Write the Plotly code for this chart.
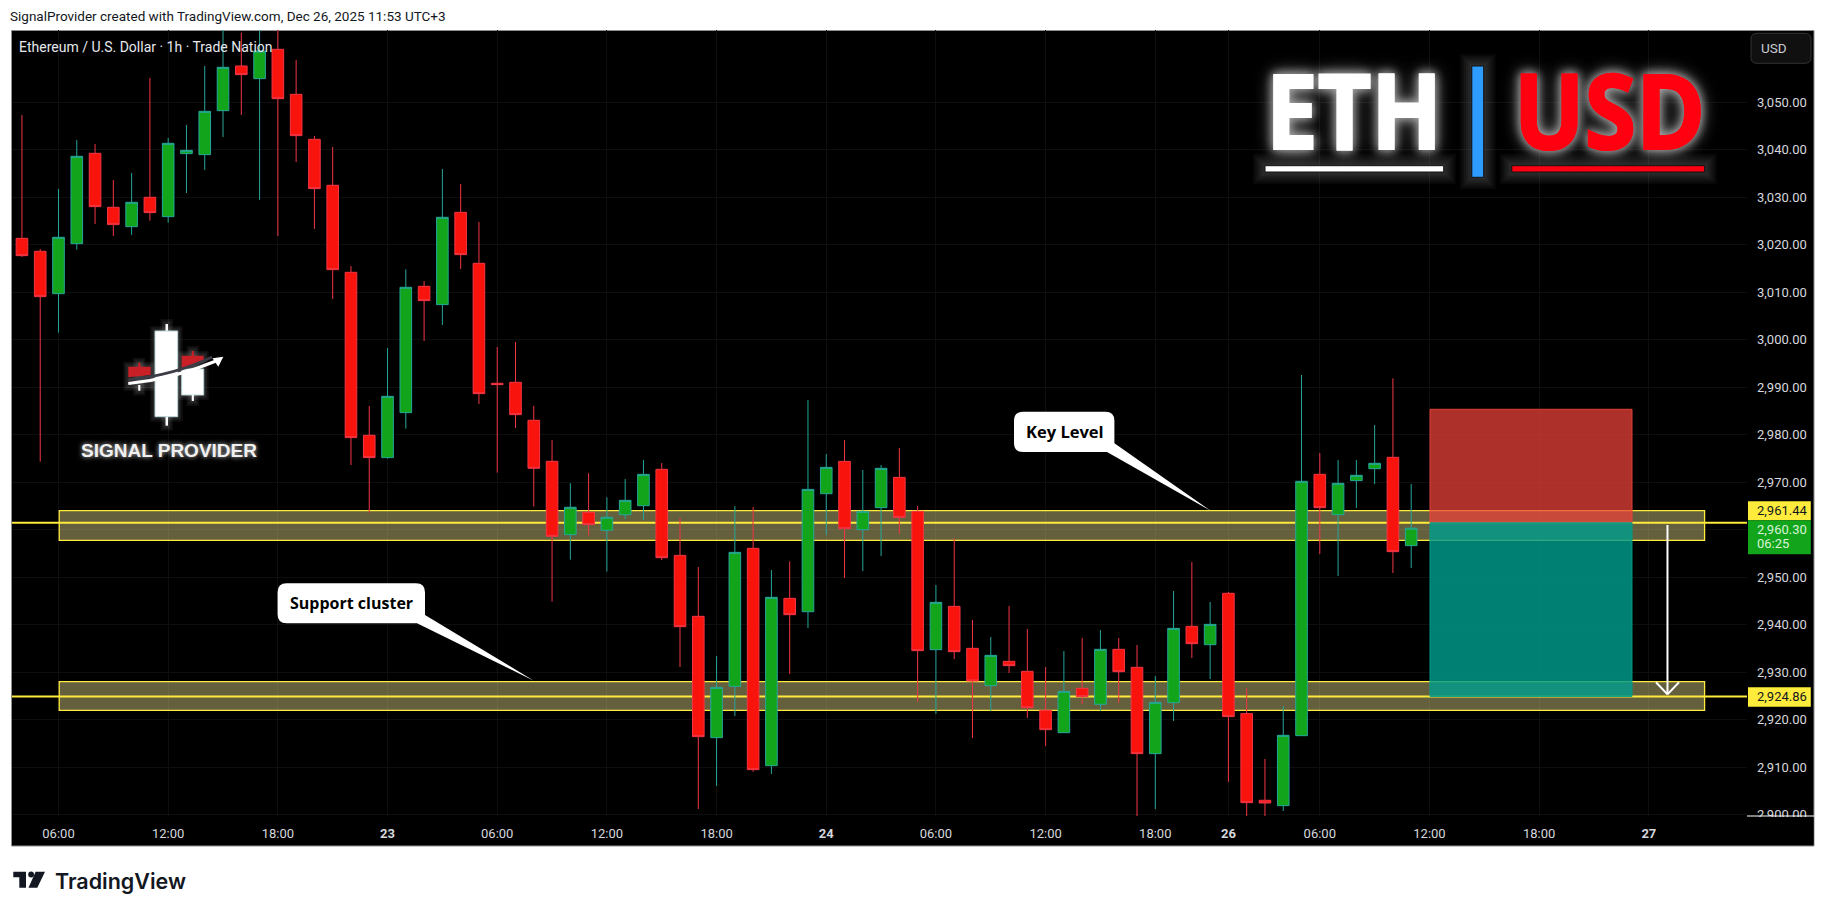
import plotly.graph_objects as go

# ---------- data (ETH/USD 1h bars, Dec 22 04:00 .. Dec 26 11:00 UTC+3) ----------
opens = [3021.34,3018.61,3009.69,3020.22,3039.25,3027.88,3023.80,3029.98,3025.91,3039.18,
         3038.97,3048.23,3057.64,3054.97,3061.15,3051.67,3042.20,3032.51,3014.19,2979.86,
         2975.16,2984.63,3011.24,3007.38,3026.82,3016.08,2990.81,2991.02,2983.02,2974.38,
         2958.94,2963.64,2959.85,2963.14,2965.03,2972.69,2954.57,2941.73,2916.18,2926.99,
         2956.05,2910.28,2945.52,2942.71,2967.56,2974.37,2959.98,2964.61,2971.00,2963.84,
         2934.71,2943.83,2934.99,2927.13,2932.25,2930.15,2921.93,2917.23,2926.56,2923.20,
         2934.78,2930.99,2912.81,2923.55,2939.62,2935.76,2946.58,2921.24,2902.99,2901.86,
         2916.60,2971.64,2963.15,2970.31,2972.83,2975.22,2956.62]
highs = [3047.32,3019.10,3031.74,3042.06,3041.21,3033.63,3035.11,3055.11,3042.48,3045.21,
         3057.64,3066.63,3064.66,3066.60,3065.92,3058.90,3042.90,3040.58,3015.52,2986.04,
         2998.25,3014.82,3012.36,3035.95,3032.79,3024.79,2998.46,2999.51,2986.04,2978.88,
         2969.75,2971.86,2966.80,2970.65,2974.65,2974.02,2962.44,2952.12,2933.37,2964.96,
         2964.75,2951.49,2953.31,2987.29,2975.92,2978.86,2972.55,2973.60,2977.18,2964.96,
         2948.33,2958.23,2940.96,2937.38,2943.90,2939.06,2931.06,2934.43,2937.17,2938.85,
         2937.17,2935.69,2929.16,2947.06,2953.17,2944.75,2946.86,2926.64,2911.69,2922.85,
         2992.56,2976.13,2974.66,2974.66,2982.03,2991.86,2969.61]
lows = [3017.42,2974.31,3001.48,3018.96,3024.37,3021.84,3022.05,3025.07,3024.65,3030.89,
        3035.74,3042.69,3047.32,3029.42,3021.84,3037.42,3023.31,3008.57,2973.61,2963.57,
        2974.94,2981.26,2999.73,3003.09,3014.89,2986.46,2972.00,2981.40,2964.84,2944.83,
        2953.67,2958.73,2951.15,2962.23,2962.02,2953.59,2931.06,2901.15,2906.00,2920.74,
        2909.01,2908.52,2929.58,2939.27,2958.86,2949.80,2951.28,2954.43,2959.07,2923.69,
        2921.16,2932.74,2916.11,2921.79,2929.79,2920.32,2914.42,2917.23,2923.27,2921.79,
        2923.48,2899.47,2901.15,2919.69,2932.95,2928.53,2906.85,2897.79,2898.49,2900.74,
        2916.60,2954.86,2950.23,2964.55,2969.61,2950.86,2951.92]
closes = [3017.70,3009.06,3021.56,3038.62,3028.02,3024.23,3028.93,3026.75,3041.35,3039.88,
          3048.09,3057.36,3055.82,3060.80,3050.76,3042.97,3031.81,3014.75,2979.37,2975.16,
          2988.07,3011.03,3008.22,3025.77,3017.91,2988.63,2990.53,2984.21,2972.91,2958.59,
          2964.70,2961.05,2962.59,2966.16,2971.63,2954.08,2939.55,2916.39,2926.78,2955.21,
          2909.44,2945.73,2942.08,2968.47,2973.11,2960.19,2963.84,2972.90,2962.58,2934.50,
          2944.68,2934.29,2928.11,2933.51,2931.34,2922.49,2917.86,2925.93,2924.81,2934.78,
          2930.07,2912.81,2923.62,2939.20,2935.97,2940.04,2920.61,2902.49,2902.42,2916.67,
          2970.17,2964.62,2969.75,2971.43,2973.96,2955.35,2960.30]

time_tick_bars = [2,8,14,20,26,32,38,44,50,56,62,66,71,77,83,89]
time_tick_labels = ["06:00","12:00","18:00","<b>23</b>","06:00","12:00","18:00","<b>24</b>",
                    "06:00","12:00","18:00","<b>26</b>","06:00","12:00","18:00","<b>27</b>"]
price_ticks = [2900,2910,2920,2930,2940,2950,2960,2970,2980,2990,3000,3010,3020,3030,3040,3050]
price_labels = [f"{p:,.2f}" for p in price_ticks]

key_zone = (2957.75, 2963.98)
support_zone = (2921.94, 2927.97)
level_high = 2961.44
level_low = 2924.86
stop_top = 2985.34
last_price = 2960.30
zone_bars = (2.04, 92.05)
position_bars = (77.03, 88.08)
arrow_bar = 90.02

# ---------- layout geometry ----------
W, H = 1826, 913
L, R, T, B = 12, 1747, 30, 816
X_RANGE = [-0.544, 94.37]
Y_RANGE = [2899.68, 3065.22]

def fx(px):
    return (px - L) / (R - L)

def fy(py):
    return 1 - (py - T) / (B - T)

YELLOW = "#FFEB3B"
shapes = []

def prect(x0, y0, x1, y1, fill=None, line=None, lw=1, layer="above"):
    shapes.append(dict(type="rect", xref="paper", yref="paper", x0=fx(x0), x1=fx(x1), y0=fy(y0), y1=fy(y1),
                       fillcolor=fill or "rgba(0,0,0,0)", line=dict(color=line or "rgba(0,0,0,0)", width=lw if line else 0),
                       layer=layer))

def ppath(points, fill=None, line=None, lw=1, layer="above", close=True):
    parts = []
    for i, p in enumerate(points):
        if p[0] == "Q":
            parts.append(f"Q {fx(p[1])},{fy(p[2])} {fx(p[3])},{fy(p[4])}")
        else:
            parts.append(("M" if i == 0 else "L") + f" {fx(p[0])},{fy(p[1])}")
    d = " ".join(parts) + (" Z" if close else "")
    shapes.append(dict(type="path", xref="paper", yref="paper", path=d,
                       fillcolor=fill or "rgba(0,0,0,0)", line=dict(color=line or "rgba(0,0,0,0)", width=lw if line else 0),
                       layer=layer))

def glow(x0, y0, x1, y1, fill, outline="#111"):
    for grow in (12, 10, 8, 6, 4, 2):
        prect(x0 - grow, y0 - grow, x1 + grow, y1 + grow, fill="rgba(255,255,255,0.03)")
    prect(x0, y0, x1, y1, fill=fill, line=outline, lw=1)

# page frame
prect(11.5, 30.5, 1814, 846, fill="#000000", line="#8e8e8e", lw=1, layer="below")

# zones, levels, position
for zone in (key_zone, support_zone):
    shapes.append(dict(type="rect", xref="x", yref="y", x0=zone_bars[0], x1=zone_bars[1], y0=zone[0], y1=zone[1],
                       fillcolor="rgba(251,238,150,0.40)", line=dict(color=YELLOW, width=1.3), layer="between"))
for lvl in (level_high, level_low):
    shapes.append(dict(type="line", xref="x", yref="y", x0=X_RANGE[0], x1=X_RANGE[1], y0=lvl, y1=lvl,
                       line=dict(color=YELLOW, width=2), layer="between"))
shapes.append(dict(type="rect", xref="x", yref="y", x0=position_bars[0], x1=position_bars[1], y0=level_high, y1=stop_top,
                   fillcolor="rgba(237,66,57,0.73)", line=dict(color="rgba(237,66,57,0.9)", width=1), layer="above"))
shapes.append(dict(type="rect", xref="x", yref="y", x0=position_bars[0], x1=position_bars[1], y0=level_low, y1=level_high,
                   fillcolor="rgba(0,156,140,0.82)", line=dict(color="rgba(0,156,140,0.9)", width=1), layer="above"))
# forecast arrow
for a, b in (((arrow_bar, 2960.97), (arrow_bar, 2925.3)),
             ((arrow_bar - 0.63, 2927.85), (arrow_bar, 2925.3)),
             ((arrow_bar + 0.63, 2927.85), (arrow_bar, 2925.3))):
    shapes.append(dict(type="line", xref="x", yref="y", x0=a[0], y0=a[1], x1=b[0], y1=b[1],
                       line=dict(color="#ffffff", width=2), layer="above"))

# callouts
def callout(x0, y0, x1, y1, side_y, tip, base_x, r=9):
    ppath([(x0 + r, y0), (x1 - r, y0), ("Q", x1, y0, x1, y0 + r), (x1, side_y), tip, (base_x, y1),
           (x0 + r, y1), ("Q", x0, y1, x0, y1 - r), (x0, y0 + r), ("Q", x0, y0, x0 + r, y0)], fill="#ffffff")

callout(277.6, 583.3, 425, 623.3, 615, (533.8, 680.7), 417)
callout(1014, 411.7, 1114.4, 452, 443.3, (1211, 511), 1107)

# signal provider logo
for grow in (5, 3.5, 2):
    for c in [(155, 331, 177.7, 416.7), (181.7, 355.7, 203.7, 395), (128.3, 366.7, 150.7, 386),
              (165.5, 324, 168, 425.7), (191.5, 351, 194, 401), (138, 362.7, 140.5, 390.7)]:
        prect(c[0] - grow, c[1] - grow, c[2] + grow, c[3] + grow, fill="rgba(255,255,255,0.05)")
prect(165.5, 324, 168, 332, fill="#ffffff")
prect(165.5, 416, 168, 425.7, fill="#ffffff")
prect(155, 331, 177.7, 416.7, fill="#ffffff", line="#bcd6d8", lw=1)
prect(181.7, 369, 203.7, 395, fill="#ffffff", line="#bcd6d8", lw=1)
prect(191.7, 395, 193.9, 401, fill="#ffffff")
prect(138.2, 385, 140.4, 390.7, fill="#ffffff")
ppath([(128.3, 366.7), (150.7, 366.7), (150.7, 375), (128.3, 377.3)], fill="#C91F27")
prect(138.2, 362.7, 140.4, 367, fill="#C91F27")
ppath([(181.7, 355.7), (203.7, 355.7), (203.7, 361.7), (181.7, 368.3)], fill="#C91F27")
prect(191.7, 351, 193.9, 356, fill="#C91F27")
ppath([(128.3, 379.8), ("Q", 175, 375, 212, 357)], line="#3c3c46", lw=2.6, close=False)
ppath([(128.3, 383.6), ("Q", 175, 378.5, 216, 361)], line="#ffffff", lw=3, close=False)
ppath([(212.5, 358.3), (223.3, 356.7), (218.3, 366.7)], fill="#ffffff")

# ETH | USD banner
glow(1265, 165.7, 1443.7, 172, "#ffffff")
glow(1511.8, 165.7, 1704.7, 172, "#FF0010")
glow(1471.8, 66, 1483.7, 177.3, "#2E9BFF")

# price scale decorations
prect(1748, 817, 1813.5, 845, fill="#000000")
prect(1747, 815.5, 1814, 816.5, fill="#ffffff")
ppath([(1757, 33.3), (1805, 33.3), ("Q", 1811, 33.3, 1811, 39), (1811, 57.5), ("Q", 1811, 63.3, 1805, 63.3),
       (1757, 63.3), ("Q", 1751, 63.3, 1751, 57.5), (1751, 39), ("Q", 1751, 33.3, 1757, 33.3)],
      fill="#101010", line="#333333", lw=1)
prect(1748, 501.3, 1810.8, 520.3, fill=YELLOW)
prect(1748, 520.3, 1810.8, 554.3, fill="#12A51C")
prect(1748, 687.3, 1810.8, 706.7, fill=YELLOW)

# tradingview logo
ppath([(13.3, 871.7), (26, 871.7), (26, 887.7), (19.3, 887.7), (19.3, 877.3), (13.3, 877.3)], fill="#131722")
shapes.append(dict(type="circle", xref="paper", yref="paper", x0=fx(28.2), x1=fx(34), y0=fy(877.4), y1=fy(871.6),
                   fillcolor="#131722", line=dict(width=0), layer="above"))
ppath([(45, 871.7), (37.3, 887.7), (28.5, 887.7), (35.6, 871.7)], fill="#131722")

# ---------- text ----------
annotations = []

def note(px, py, text, size, color, anchor="left", family="Roboto", shadow=None, weight=None):
    font = dict(family=family, size=size, color=color)
    if shadow:
        font["shadow"] = shadow
    if weight:
        font["weight"] = weight
    annotations.append(dict(xref="paper", yref="paper", x=fx(px), y=fy(py), text=text, showarrow=False,
                            xanchor=anchor, yanchor="middle", font=font, borderpad=0, borderwidth=0))

note(10, 16.3, "SignalProvider created with TradingView.com, Dec 26, 2025 11:53 UTC+3", 13.5, "#131722")
note(19, 46.7, "Ethereum / U.S. Dollar · 1h · Trade Nation", 14, "#e6e8ee")
note(351, 602.5, "<b>Support cluster</b>", 16, "#000000", "center", "Open Sans")
note(1064.5, 431, "<b>Key Level</b>", 16.5, "#000000", "center", "Open Sans")
note(169, 450.5, "<b>SIGNAL PROVIDER</b>", 19, "#f0f0f0", "center", "Liberation Sans", "0 0 5px rgba(255,255,255,0.8)")
GLOW = "0 0 10px #bbbbbb, 0 0 18px #888888"
# glow layer, then the crisp letters on top of it
note(1354, 108.5, "<b>ETH</b>", 104, "#ffffff", "center", "Open Sans", GLOW)
note(1609, 108.5, "<b>USD</b>", 104, "#FF0010", "center", "Open Sans", GLOW)
note(1354, 108.5, "<b>ETH</b>", 104, "#ffffff", "center", "Open Sans")
note(1609, 108.5, "<b>USD</b>", 104, "#FF0010", "center", "Open Sans")
note(1761, 48.3, "USD", 13.5, "#c8cad0")
note(1757, 510.3, "2,961.44", 13, "#131722")
note(1757, 529, "2,960.30", 13, "#d8f3d8")
note(1757, 543.7, "06:25", 13, "#d8f3d8")
note(1757, 696.3, "2,924.86", 13, "#131722")
note(55, 880.7, "TradingView", 21.5, "#131722", "left", "Inter", None, 600)

# ---------- figure ----------
fig = go.Figure(go.Candlestick(
    x=list(range(len(opens))), open=opens, high=highs, low=lows, close=closes,
    whiskerwidth=0,
    increasing=dict(fillcolor="#12A51C", line=dict(color="#26A69A", width=1)),
    decreasing=dict(fillcolor="#F8130C", line=dict(color="#F23645", width=1)),
    showlegend=False, hoverinfo="skip",
))

fig.update_layout(
    width=W, height=H, autosize=False,
    margin=dict(l=L, r=W - R, t=T, b=H - B, pad=0),
    paper_bgcolor="#ffffff", plot_bgcolor="#000000",
    boxgap=0.365, boxgroupgap=0, showlegend=False, hovermode=False,
    shapes=shapes, annotations=annotations,
    font=dict(family="Roboto", size=13, color="#d6d8de"),
    xaxis=dict(type="linear", range=X_RANGE, rangeslider=dict(visible=False), tickmode="array",
               tickvals=time_tick_bars, ticktext=time_tick_labels, showgrid=True, gridcolor="#0e0e0e", gridwidth=1,
               zeroline=False, showline=False, ticks="", ticklabelstandoff=8,
               tickfont=dict(family="Roboto", size=13, color="#d6d8de")),
    yaxis=dict(type="linear", range=Y_RANGE, side="right", tickmode="array", tickvals=price_ticks,
               ticktext=price_labels, showgrid=True, gridcolor="#0e0e0e", gridwidth=1,
               zeroline=False, showline=False, ticks="", ticklabelstandoff=9,
               tickfont=dict(family="Roboto", size=13, color="#d6d8de")),
)

# the banner letters are condensed and heavier in the reference
POST = """
document.body.style.margin='0';document.documentElement.style.overflow='hidden';
(function(){
  var gd=document.getElementById('{plot_id}');
  var fit=function(){
    document.querySelectorAll('.annotation-text').forEach(function(t){
      var s=t.textContent, big=parseFloat(t.style.fontSize)>50;
      if(!big){return;}
      var k=(s==='ETH')?0.89:0.90;
      t.style.transformBox='fill-box';t.style.transformOrigin='center';t.style.transform='scaleX('+k+')';
      t.style.stroke=(s==='ETH')?'#ffffff':'#FF0010';t.style.strokeWidth='2px';
    });
  };
  fit(); setTimeout(fit,100); if(gd&&gd.on){gd.on('plotly_afterplot',fit);}
})();
"""
fig.write_html("out.html", config=dict(displayModeBar=False), post_script=POST)
